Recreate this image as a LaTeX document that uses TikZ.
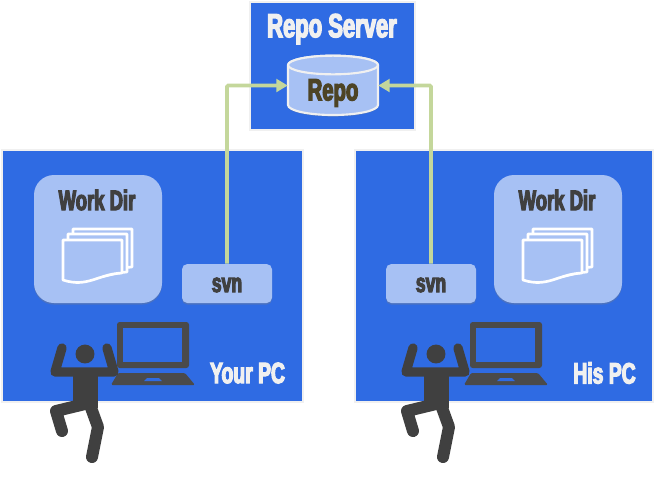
\documentclass[tikz,border=0pt]{standalone}
\usepackage{fontspec}
\setmainfont{Liberation Sans}
\newfontfamily\heavyfont{Liberation Sans}[FakeStretch=0.66,BoldFeatures={FakeBold=4}]
\usetikzlibrary{arrows.meta,shadows}
\definecolor{r47g107b227}{rgb}{0.184314,0.419608,0.890196}
\definecolor{r167g193b244}{rgb}{0.654902,0.756863,0.956863}
\definecolor{r196g215b155}{rgb}{0.768627,0.843137,0.607843}
\definecolor{r240g240b240}{rgb}{0.941176,0.941176,0.941176}
\definecolor{r64g64b64}{rgb}{0.250980,0.250980,0.250980}
\definecolor{r74g74b74}{rgb}{0.290196,0.290196,0.290196}
\definecolor{r77g68b38}{rgb}{0.301961,0.266667,0.149020}
\tikzset{
  panelbox/.style={draw=r240g240b240,line width=1.2pt,fill=r47g107b227,inner sep=0pt},
  softshadow/.style={drop shadow={opacity=0.35,shadow xshift=0pt,shadow yshift=-1.2pt}},
  workbox/.style={fill=r167g193b244,rounded corners=15pt,minimum width=96pt,minimum height=96pt,inner sep=0pt,softshadow},
  svnbox/.style={fill=r167g193b244,rounded corners=4pt,minimum width=67.5pt,minimum height=29.25pt,inner sep=0pt,softshadow},
  repobox/.style={minimum width=67.5pt,minimum height=44.25pt,inner sep=0pt},
  whitelabel/.style={text=r240g240b240,inner sep=0pt,font=\heavyfont\bfseries\fontsize{22}{24}\selectfont},
  darklabel/.style={text=r64g64b64,inner sep=0pt,font=\heavyfont\bfseries\fontsize{21}{24}\selectfont},
  syncline/.style={draw=r196g215b155,line width=2.8pt,rounded corners=1pt,-{Triangle[length=8.5pt,width=9.5pt]}},
  limb/.style={draw=r64g64b64,line width=7pt,line cap=round,line join=round},
  leg/.style={draw=r64g64b64,line width=9pt,line cap=round,line join=round},
  sheet/.style={draw=white,line width=2pt,fill=r167g193b244,line join=round},
  % Stack of pages
  pages/.pic={
    \draw [sheet] (10,-11) -- (69,-11) -- (69,27) .. controls (50,28) and (35,38) .. (10,32) -- cycle;%
    \draw [sheet] (5,-6) -- (64,-6) -- (64,32) .. controls (45,33) and (30,43) .. (5,37) -- cycle;%
    \draw [sheet] (0,0) -- (59,0) -- (59,33) .. controls (35,34) and (25,48) .. (0,40) -- cycle;%
  },
  % Person with raised arms
  person/.pic={
    \fill [r64g64b64] (85,354) circle (7.1pt);%
    \draw [limb] (62,348) -- (55,372) -- (114,372) -- (107,348);%
    \fill [r64g64b64] (73,372) rectangle (98,408);%
    \draw [leg] (85,404) -- (56,411) -- (62,431);%
    \draw [leg] (90,405) -- (98,427) -- (92,457);%
  },
  % Laptop
  laptop/.pic={
    \fill [r74g74b74,rounded corners=2pt] (117,322) rectangle (189,368);%
    \fill [r47g107b227] (123,328) rectangle (182,362);%
    \fill [r74g74b74,rounded corners=1pt] (111,385) -- (118,373) -- (185,373) -- (195,385) -- cycle;%
    \fill [r47g107b227] (144,381) -- (147,378) -- (159,378) -- (162,381) -- cycle;%
  }
}
\begin{document}
\begin{tikzpicture}[x=0.75pt,y=-0.75pt]
  \useasboundingbox (0,0) rectangle (655,476);

  % Drawing panels
  \node [panelbox,minimum width=123.75pt,minimum height=96pt] (repoServer) at (332.5,66) {};
  \node [panelbox,minimum width=225.75pt,minimum height=189pt] (yourPC) at (152.5,276) {};
  \node [panelbox,minimum width=223.5pt,minimum height=189pt] (hisPC) at (504,276) {};

  % Drawing repo cylinder
  \node [repobox] (repo) at (333,85.5) {};
  \draw [draw=r240g240b240,line width=1.6pt,fill=r167g193b244,softshadow] (288,65) -- (288,105)
    arc (180:360:33.75pt and 7.5pt) -- (378,65) arc (0:180:33.75pt and 7pt) -- cycle;%
  \draw [draw=r240g240b240,line width=1.6pt,fill=r167g193b244] (288,65) arc (180:540:33.75pt and 7pt);%

  % Drawing work dirs
  \node [workbox] (workDirL) at (98,239) {};
  \node [workbox] (workDirR) at (558,239) {};

  % Drawing svn boxes
  \node [svnbox] (svnL) at (227,283.5) {};
  \node [svnbox] (svnR) at (431,283.5) {};

  % Drawing arrows
  \draw [syncline] (svnL.north) |- (repo.west);%
  \draw [syncline] (svnR.north) |- (repo.east);%

  % Marking labels
  \node [whitelabel,font=\heavyfont\bfseries\fontsize{25}{28}\selectfont] (repoServerText) at (332,29) {Repo Server};
  \node [text=r77g68b38,inner sep=0pt,font=\heavyfont\bfseries\fontsize{23}{26}\selectfont] (repoText) at (333,93) {Repo};
  \node [darklabel] (workTextL) at (97,200) {Work Dir};
  \node [darklabel] (workTextR) at (557,200) {Work Dir};
  \node [darklabel,font=\heavyfont\bfseries\fontsize{20}{22}\selectfont] (svnTextL) at (227,285) {svn};
  \node [darklabel,font=\heavyfont\bfseries\fontsize{20}{22}\selectfont] (svnTextR) at (431,285) {svn};
  \node [whitelabel] (yourText) at (247.5,373) {Your PC};
  \node [whitelabel] (hisText) at (604.5,373) {His PC};

  % Drawing pages
  \pic at (63,240) {pages};
  \pic at (523,240) {pages};

  % Drawing laptops and persons
  \pic at (0,0) {laptop};
  \pic at (353,0) {laptop};
  \pic at (0,0) {person};
  \pic at (351,0) {person};
\end{tikzpicture}
\end{document}
